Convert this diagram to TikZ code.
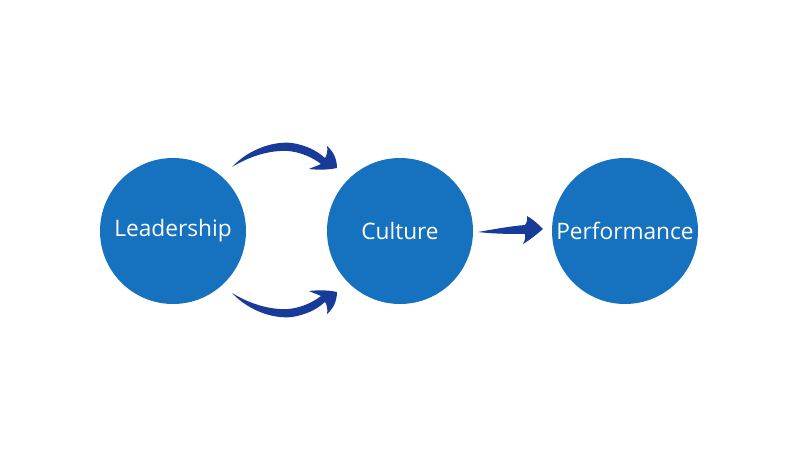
\documentclass[tikz,border=0pt]{standalone}
\usepackage{fontspec}
\setmainfont{Open Sans}
\definecolor{circblue}{RGB}{22,113,190}
\definecolor{arrblue}{RGB}{24,58,152}
\begin{document}
\begin{tikzpicture}[x=0.75pt,y=-0.75pt,
  bubble/.style={circle,fill=circblue,minimum size=146*0.75pt,inner sep=0pt,text=white,font=\fontsize{17}{20}\selectfont},
  swoosh/.style={fill=arrblue,draw=none}]
\useasboundingbox (0,0) rectangle (800,453);
\node[bubble] (lead) at (173,231) {Leadership};
\node[bubble] (cult) at (400,231) {Culture};
\node[bubble] (perf) at (625,231) {Performance};
% top arrow
\fill[swoosh] (232,167) .. controls (250,148) and (275,141) .. (292,143)
  .. controls (305,145) and (316,150) .. (325,158)
  .. controls (327,155) and (328,150) .. (327,146)
  .. controls (334,152) and (337,160) .. (337,168)
  .. controls (328,170) and (318,170) .. (309,169)
  .. controls (313,167) and (317,166) .. (321,164)
  .. controls (312,157) and (300,152) .. (288,151)
  .. controls (270,150) and (250,156) .. (232,167) -- cycle;
% bottom arrow
\begin{scope}[yshift=-460*0.75pt,yscale=-1]
\fill[swoosh] (232,167) .. controls (250,148) and (275,141) .. (292,143)
  .. controls (305,145) and (316,150) .. (325,158)
  .. controls (327,155) and (328,150) .. (327,146)
  .. controls (334,152) and (337,160) .. (337,168)
  .. controls (328,170) and (318,170) .. (309,169)
  .. controls (313,167) and (317,166) .. (321,164)
  .. controls (312,157) and (300,152) .. (288,151)
  .. controls (270,150) and (250,156) .. (232,167) -- cycle;
\end{scope}
% right arrow
\fill[swoosh] (478,232) .. controls (495,229) and (512,226) .. (525,225)
  .. controls (527,222) and (528,219) .. (527,216)
  .. controls (534,220) and (539,225) .. (543,229)
  .. controls (537,234) and (530,240) .. (523,244)
  .. controls (525,240) and (526,237) .. (525,234)
  .. controls (512,234) and (495,234) .. (478,232) -- cycle;
\end{tikzpicture}
\end{document}
